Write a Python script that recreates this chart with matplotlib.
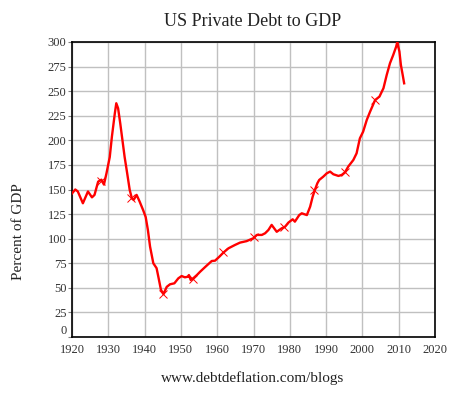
import numpy as np
import matplotlib.pyplot as plt

# values (year, percent of GDP)
years = [1920.0, 1920.9, 1921.6, 1923.0, 1924.4, 1925.5, 1926.2, 1927.2, 1928.1,
         1928.8, 1929.5, 1930.4, 1931.0, 1931.8, 1932.2, 1932.7, 1933.3, 1933.9,
         1934.5, 1935.2, 1935.9, 1936.5, 1937.0, 1937.8, 1938.6, 1939.6, 1940.3,
         1940.9, 1941.5, 1942.4, 1943.3, 1943.8, 1944.5, 1945.2, 1946.1, 1947.0,
         1948.2, 1949.3, 1950.2, 1951.1, 1951.9, 1952.2, 1952.7, 1953.4, 1954.4,
         1955.3, 1956.6, 1958.5, 1959.4, 1960.6, 1961.7, 1963.1, 1964.9, 1966.3,
         1968.1, 1970.0, 1970.9, 1972.3, 1973.2, 1974.1, 1975.0, 1976.4, 1977.8,
         1978.7, 1979.6, 1980.8, 1981.4, 1982.6, 1983.3, 1984.7, 1985.6, 1986.3,
         1986.9, 1987.6, 1988.1, 1989.2, 1990.2, 1991.1, 1992.0, 1993.4, 1994.3,
         1995.2, 1996.1, 1997.5, 1998.4, 1999.3, 2000.2, 2001.2, 2002.1, 2003.5,
         2004.7, 2005.8, 2006.7, 2007.6, 2008.5, 2009.3, 2009.6, 2010.2, 2010.6,
         2011.1, 2011.5]
debt = [146, 150, 148, 136, 148, 142, 144.5, 158, 160,
        155, 166.5, 183, 204, 227.5, 237.7, 232.6, 217, 200,
        183, 166.5, 149.5, 141, 139.5, 144.5, 138, 129, 122,
        109, 92, 75, 70, 61, 48, 43.7, 51, 53.6,
        54.6, 59.7, 62, 60.7, 61.3, 63, 58, 59.7, 63,
        66.4, 70.9, 77.3, 77.6, 81.7, 85.8, 90.2, 93.6, 96,
        97.5, 100.5, 103.8, 103.8, 105.5, 108.8, 114, 107, 110.6,
        112.2, 116.3, 119.7, 117.3, 124, 125.8, 124, 132.5, 142.7,
        149.5, 156.4, 159.7, 163, 166.5, 168.2, 165.5, 163.8, 164.8,
        167.5, 173.3, 180, 186.8, 202, 208.8, 220.7, 229, 241,
        244.5, 253, 266.5, 278.4, 286.9, 295.3, 299.8, 290.2, 276.7,
        266.5, 258]

# thin cross markers along the line
mark_years = [1927.9, 1936.3, 1945.0, 1953.3, 1961.7, 1970.0, 1978.3, 1986.7, 1995.3, 2003.4]
mark_debt = [159, 141, 44, 58.5, 86, 101.5, 111.8, 149.5, 167.5, 241.5]

xticks = list(range(1920, 2021, 10))
yticks = list(range(0, 301, 25))

serif = ['Liberation Serif', 'DejaVu Serif']

fig = plt.figure(figsize=(4.61, 3.95), dpi=100)
ax = fig.add_axes([72 / 461, 1 - 337 / 395, 363 / 461, 295 / 395])

ax.plot(years, debt, color='#ff0000', lw=1.7, solid_joinstyle='round', zorder=3)
ax.plot(mark_years, mark_debt, ls='none', marker='x', ms=6, mew=0.7,
        color='#ff0000', zorder=3)

ax.set_xlim(1920, 2020)
ax.set_ylim(0, 300)
ax.set_xticks(xticks)
ax.set_yticks(yticks)
ax.grid(True, color='#c0c0c0', lw=1.0)
ax.set_axisbelow(True)
for s in ax.spines.values():
    s.set_color('black')
    s.set_linewidth(1.2)

ax.tick_params(axis='y', direction='out', length=3, width=0.8, color='#808080',
               pad=1, labelsize=9, labelcolor='#333333')
ax.tick_params(axis='x', length=0, pad=5, labelsize=9, labelcolor='#333333')
for lab in ax.get_xticklabels() + ax.get_yticklabels():
    lab.set_family(serif)
ax.get_yticklabels()[0].set_verticalalignment('bottom')

fig.text(253 / 461, 1 - 22 / 395, 'US Private Debt to GDP', ha='center', va='center',
         fontsize=13, family=serif, color='#222222')
fig.text(18 / 461, 1 - 232 / 395, 'Percent of GDP', ha='center', va='center',
         rotation=90, fontsize=11, family=serif, color='#222222')
fig.text(253 / 461, 1 - 378 / 395, 'www.debtdeflation.com/blogs', ha='center', va='center',
         fontsize=11, family=serif, color='#222222')

fig.savefig('out.png', dpi=100)
